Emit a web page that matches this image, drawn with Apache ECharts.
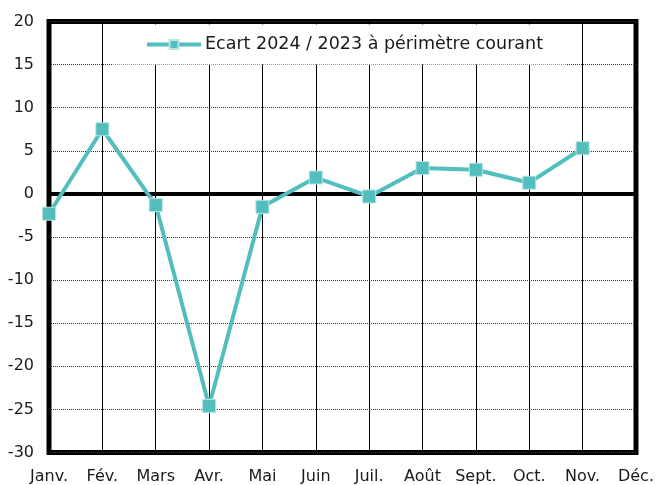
<!DOCTYPE html>
<html>
<head>
<meta charset="utf-8">
<script src="https://cdn.jsdelivr.net/npm/echarts@6/dist/echarts.min.js"></script>
<style>
  html, body { margin: 0; padding: 0; background: #fff; }
  #chart { width: 657px; height: 485px; }
</style>
</head>
<body>
<div id="chart"></div>
<script>
const months = ['Janv.', 'Fév.', 'Mars', 'Avr.', 'Mai', 'Juin', 'Juil.', 'Août', 'Sept.', 'Oct.', 'Nov.', 'Déc.']
const ecartValues = [-2.3, 7.5, -1.3, -24.6, -1.5, 1.9, -0.3, 3.0, 2.8, 1.3, 5.3, null]
const seriesName = 'Ecart 2024 / 2023 à périmètre courant'
const yTicks = { min: -30, max: 20, interval: 5 }

const teal = '#52bebe'
const fontFamily = '"DejaVu Sans", "Open Sans", sans-serif'

const chart = echarts.init(document.getElementById('chart'))

chart.setOption({
  animation: false,
  textStyle: { fontFamily: fontFamily },
  grid: {
    left: 49,
    right: 18.5,
    top: 21.5,
    bottom: 32.5,
    show: true,
    borderColor: '#000',
    borderWidth: 5,
    backgroundColor: 'transparent',
  },
  legend: {
    top: 24.5,
    left: 112,
    padding: [11, 24, 11, 33],
    backgroundColor: '#fff',
    itemWidth: 54,
    itemHeight: 11,
    itemGap: 0,
    lineStyle: { width: 4 },
    textStyle: { fontSize: 17.5, color: '#1a1a1a', fontFamily: fontFamily, padding: [0, 0, 0, -1] },
    data: [seriesName],
  },
  xAxis: {
    type: 'category',
    data: months,
    boundaryGap: false,
    axisLine: { show: false },
    axisTick: { show: false },
    axisLabel: { color: '#1a1a1a', fontSize: 16, margin: 16, interval: 0, hideOverlap: false },
    splitLine: { show: true, interval: 0, lineStyle: { color: '#000', width: 1 } },
  },
  yAxis: {
    type: 'value',
    min: yTicks.min,
    max: yTicks.max,
    interval: yTicks.interval,
    axisLine: { show: false },
    axisTick: { show: false },
    axisLabel: { color: '#1a1a1a', fontSize: 16, margin: 15 },
    splitLine: { show: true, lineStyle: { color: '#333', width: 1, type: [1, 1] } },
  },
  series: [{
    name: seriesName,
    type: 'line',
    data: ecartValues,
    symbol: 'rect',
    symbolSize: 13,
    lineStyle: { color: teal, width: 4 },
    itemStyle: { color: teal, borderColor: '#b4e4e4', borderWidth: 1 },
    z: 5,
    markLine: {
      silent: true,
      symbol: 'none',
      label: { show: false },
      lineStyle: { color: '#000', width: 4, type: 'solid' },
      data: [{ yAxis: 0 }],
      z: 3,
    },
  }],
})
</script>
</body>
</html>
